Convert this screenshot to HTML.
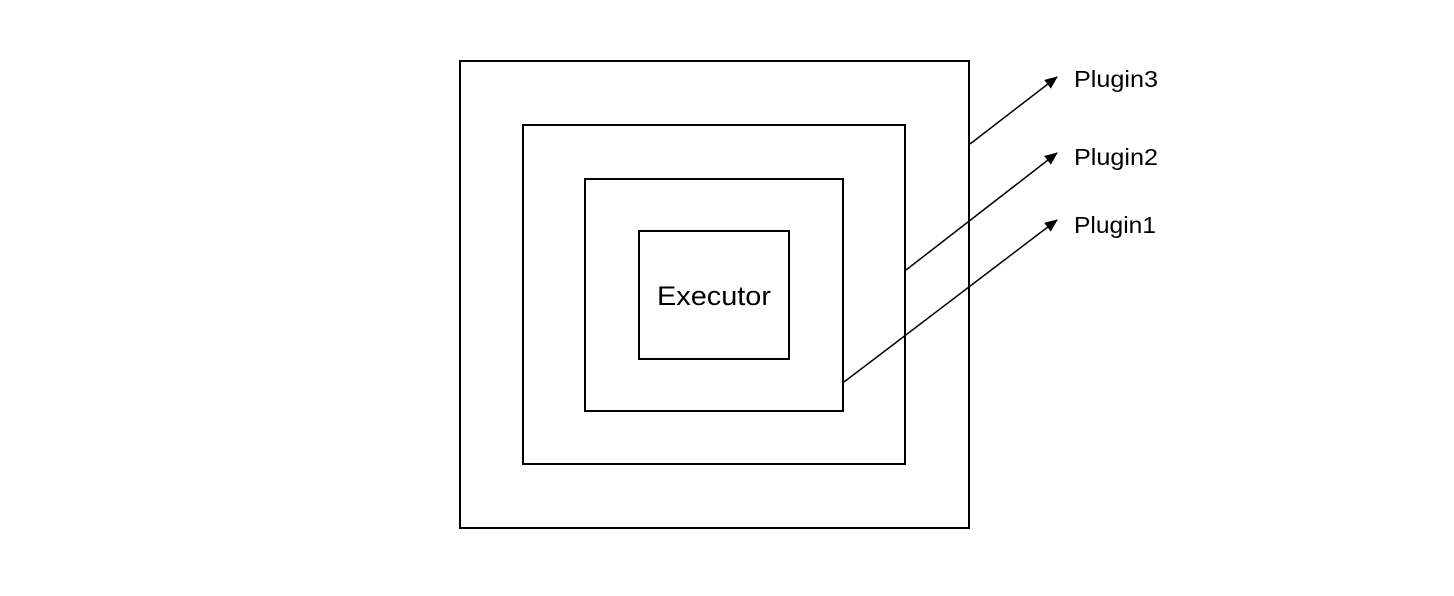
<!DOCTYPE html>
<html><head><style>
html,body{margin:0;padding:0;background:#fff;}
</style></head><body>
<svg width="1454" height="596" xmlns="http://www.w3.org/2000/svg" style="display:block">
<defs><marker id="a" markerWidth="13" markerHeight="11" refX="12" refY="5.5" orient="auto" markerUnits="userSpaceOnUse"><path d="M0,0 L13,5.5 L0,11 z" fill="#000"/></marker></defs>
<g fill="none" stroke="#000" stroke-width="2">
<rect x="460" y="61" width="509" height="467"/>
<rect x="523" y="125" width="382" height="339"/>
<rect x="585" y="179" width="258" height="232"/>
<rect x="639" y="231" width="150" height="128"/>
</g>
<g stroke="#000" stroke-width="1.5">
<line x1="970" y1="144" x2="1057" y2="77" marker-end="url(#a)"/>
<line x1="906" y1="270" x2="1057" y2="153" marker-end="url(#a)"/>
<line x1="844" y1="382" x2="1057" y2="220" marker-end="url(#a)"/>
</g>
<g font-family="Liberation Sans, sans-serif" fill="#000">
<text x="657" y="305" font-size="27" textLength="114" lengthAdjust="spacingAndGlyphs">Executor</text>
<text x="1074" y="87" font-size="23" textLength="84" lengthAdjust="spacingAndGlyphs">Plugin3</text>
<text x="1074" y="165" font-size="23" textLength="84" lengthAdjust="spacingAndGlyphs">Plugin2</text>
<text x="1074" y="233" font-size="23" textLength="82" lengthAdjust="spacingAndGlyphs">Plugin1</text>
</g>
</svg>
</body></html>
